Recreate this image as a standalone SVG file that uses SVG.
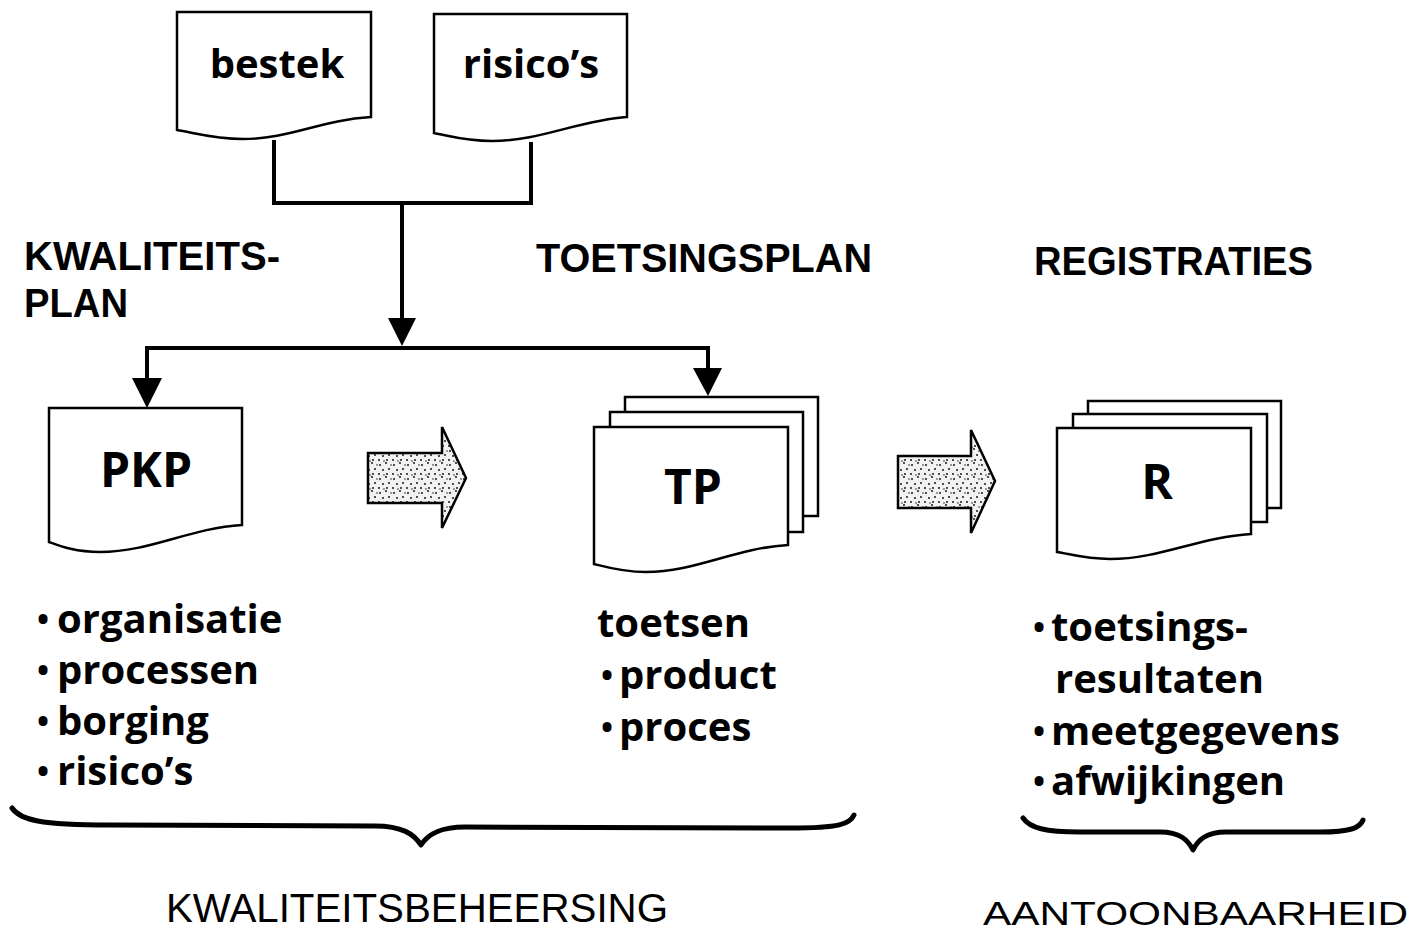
<svg xmlns="http://www.w3.org/2000/svg" width="1415" height="933" viewBox="0 0 1415 933">
<style>
.doc{fill:#fff;stroke:#000;stroke-width:2.5}
.page{fill:#fff;stroke:#000;stroke-width:2.5}
.lbl{font-family:"Open Sans","Noto Sans","Liberation Sans",sans-serif;font-weight:700;fill:#000}
.head{font-family:"Liberation Sans","Arial",sans-serif;font-weight:700;font-size:41px;fill:#000}
.list{font-family:"Open Sans","Noto Sans","Liberation Sans",sans-serif;font-weight:700;font-size:40px;fill:#000}
.bul{font-size:32px}
.foot{font-family:"Liberation Sans","DejaVu Sans",sans-serif;font-weight:400;fill:#000}
.conn{fill:none;stroke:#000;stroke-width:4}
.brace{fill:none;stroke:#000;stroke-width:5;stroke-linecap:round;stroke-linejoin:round}
.fat{fill:url(#stip);stroke:#000;stroke-width:2.5;stroke-linejoin:miter}
</style>
<defs>
<pattern id="stip" width="14" height="14" patternUnits="userSpaceOnUse">
<rect width="14" height="14" fill="#f2f2f2"/>
<circle cx="2" cy="3" r="0.9" fill="#000"/>
<circle cx="8" cy="1" r="0.9" fill="#000"/>
<circle cx="11" cy="7" r="0.9" fill="#000"/>
<circle cx="5" cy="8" r="0.9" fill="#000"/>
<circle cx="1" cy="12" r="0.9" fill="#000"/>
<circle cx="9" cy="12" r="0.9" fill="#000"/>
<circle cx="13" cy="3" r="0.7" fill="#000"/>
<circle cx="6" cy="13" r="0.7" fill="#000"/>
</pattern>
</defs>
<rect width="1415" height="933" fill="#fff"/>

<g id="connectors">
<path class="conn" d="M274,140 V203 H531 V142"/>
<path class="conn" d="M402,203 V320"/>
<polygon points="388,318 416,318 402,346" fill="#000"/>
<path class="conn" d="M147,380 V348 H708 V370"/>
<polygon points="132,378 162,378 147,408" fill="#000"/>
<polygon points="693,368 722,368 708,396" fill="#000"/>
<polygon class="fat" points="368,453 442,453 442,427 466,478 442,528 442,503 368,503"/>
<polygon class="fat" points="898,456 971,456 971,430 995,481 971,533 971,508 898,508"/>
</g>

<g id="bestek">
<path class="doc" d="M177,12 H371 V117 C320,120 290,139 243,139 C215,139 195,133 177,130 Z"/>
<text class="lbl" x="277" y="78" font-size="40" text-anchor="middle">bestek</text>
</g>

<g id="risicos">
<path class="doc" d="M434,14 H627 V117 C580,120 540,141 492,141 C465,141 450,136 434,133 Z"/>
<text class="lbl" x="531" y="78" font-size="40" text-anchor="middle">risico’s</text>
</g>

<g id="kwaliteitsplan-label">
<text class="head" x="24" y="270" textLength="256" lengthAdjust="spacingAndGlyphs">KWALITEITS-</text>
<text class="head" x="24" y="317" textLength="104" lengthAdjust="spacingAndGlyphs">PLAN</text>
</g>
<g id="toetsingsplan-label">
<text class="head" x="536" y="272" textLength="336" lengthAdjust="spacingAndGlyphs">TOETSINGSPLAN</text>
</g>
<g id="registraties-label">
<text class="head" x="1034" y="275" textLength="279" lengthAdjust="spacingAndGlyphs">REGISTRATIES</text>
</g>

<g id="pkp">
<path class="doc" d="M49,408 H242 V525 C190,528 150,552 100,552 C75,552 60,546 49,542 Z"/>
<text class="lbl" x="146" y="487" font-size="48" text-anchor="middle">PKP</text>
</g>

<g id="tp">
<rect class="page" x="625" y="397" width="193" height="119"/>
<rect class="page" x="610" y="412" width="193" height="120"/>
<path class="doc" d="M594,427 H788 V545 C735,548 695,572 646,572 C622,572 606,567 594,564 Z"/>
<text class="lbl" x="693" y="504" font-size="48" text-anchor="middle">TP</text>
</g>

<g id="r">
<rect class="page" x="1088" y="401" width="193" height="107"/>
<rect class="page" x="1073" y="414" width="194" height="108"/>
<path class="doc" d="M1057,428 H1251 V534 C1200,537 1160,559 1110,559 C1085,559 1070,554 1057,552 Z"/>
<text class="lbl" x="1157" y="499" font-size="48" text-anchor="middle">R</text>
</g>

<g id="pkp-list">
<text class="list" x="37" y="633"><tspan class="bul" dy="-2">•</tspan><tspan x="57" dy="2">organisatie</tspan></text>
<text class="list" x="37" y="684"><tspan class="bul" dy="-2">•</tspan><tspan x="57" dy="2">processen</tspan></text>
<text class="list" x="37" y="735"><tspan class="bul" dy="-2">•</tspan><tspan x="57" dy="2">borging</tspan></text>
<text class="list" x="37" y="785"><tspan class="bul" dy="-2">•</tspan><tspan x="57" dy="2">risico’s</tspan></text>
</g>

<g id="tp-list">
<text class="list" x="597" y="637">toetsen</text>
<text class="list" x="601" y="689"><tspan class="bul" dy="-2">•</tspan><tspan x="619" dy="2">product</tspan></text>
<text class="list" x="601" y="741"><tspan class="bul" dy="-2">•</tspan><tspan x="619" dy="2">proces</tspan></text>
</g>

<g id="r-list">
<text class="list" x="1033" y="641"><tspan class="bul" dy="-2">•</tspan><tspan x="1051" dy="2">toetsings-</tspan></text>
<text class="list" x="1055" y="693">resultaten</text>
<text class="list" x="1033" y="745"><tspan class="bul" dy="-2">•</tspan><tspan x="1051" dy="2">meetgegevens</tspan></text>
<text class="list" x="1033" y="795"><tspan class="bul" dy="-2">•</tspan><tspan x="1051" dy="2">afwijkingen</tspan></text>
</g>

<g id="brace-kwaliteitsbeheersing">
<path class="brace" d="M12,808 C20,820 40,825 110,825 L375,826 C402,826 414,834 421,845 C428,834 440,827 465,827 L790,828 C840,828 850,824 854,815"/>
<text class="foot" x="166" y="922" font-size="40" textLength="502" lengthAdjust="spacingAndGlyphs">KWALITEITSBEHEERSING</text>
</g>

<g id="brace-aantoonbaarheid">
<path class="brace" d="M1023,818 C1030,828 1045,832 1080,832 L1160,832 C1180,832 1188,840 1193,850 C1198,840 1206,832 1226,832 L1320,832 C1350,832 1360,828 1363,820"/>
<text class="foot" x="983" y="925" font-size="34" textLength="425" lengthAdjust="spacingAndGlyphs">AANTOONBAARHEID</text>
</g>
</svg>
